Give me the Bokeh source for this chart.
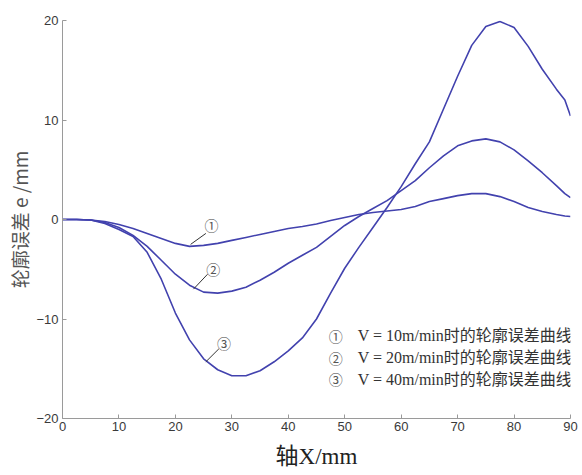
from bokeh.plotting import figure
from bokeh.models import Label, Range1d, FixedTicker
from bokeh.embed import file_html
from bokeh.resources import INLINE

# ---- data ----
x_mm = [0, 2.5, 5, 7.5, 10, 12.5, 15, 17.5, 20, 22.5, 25, 27.5, 30, 32.5, 35, 37.5,
        40, 42.5, 45, 47.5, 50, 52.5, 55, 57.5, 60, 62.5, 65, 67.5, 70, 72.5, 75,
        77.5, 80, 82.5, 85, 87.5, 89, 90]
e_v10 = [0, 0, -0.05, -0.2, -0.5, -0.9, -1.4, -1.9, -2.4, -2.7, -2.6, -2.4, -2.1, -1.8,
         -1.5, -1.2, -0.9, -0.7, -0.45, -0.1, 0.2, 0.5, 0.7, 0.85, 1.0, 1.3, 1.8, 2.1,
         2.4, 2.6, 2.6, 2.3, 1.8, 1.2, 0.8, 0.5, 0.35, 0.3]
e_v20 = [0, 0, -0.05, -0.3, -0.8, -1.6, -2.7, -4.1, -5.5, -6.6, -7.3, -7.4, -7.2, -6.8,
         -6.1, -5.3, -4.4, -3.6, -2.8, -1.7, -0.6, 0.3, 1.1, 1.9, 2.9, 3.9, 5.2, 6.4,
         7.4, 7.9, 8.1, 7.8, 7.0, 5.9, 4.7, 3.4, 2.6, 2.2]
e_v40 = [0, 0, -0.05, -0.4, -1.0, -1.7, -3.3, -6.0, -9.4, -12.1, -14.0, -15.1, -15.7,
         -15.7, -15.2, -14.3, -13.2, -11.9, -10.0, -7.4, -4.9, -2.8, -0.8, 1.2, 3.3,
         5.6, 7.8, 11.1, 14.4, 17.5, 19.4, 19.9, 19.3, 17.4, 15.1, 13.1, 12.0, 10.4]
x_ticks = [0, 10, 20, 30, 40, 50, 60, 70, 80, 90]
y_ticks = [-20, -10, 0, 10, 20]
legend_marks = ["①", "②", "③"]
legend_texts = ["V = 10m/min时的轮廓误差曲线",
                "V = 20m/min时的轮廓误差曲线",
                "V = 40m/min时的轮廓误差曲线"]

LINE = "#4242ae"
SERIF = "'Liberation Serif', 'Noto Sans CJK SC'"

p = figure(width=582, height=475, output_backend="svg", toolbar_location=None,
           x_range=Range1d(0, 90), y_range=Range1d(-20, 20),
           min_border_left=62, min_border_right=12, min_border_top=20,
           min_border_bottom=57)
p.outline_line_color = None
p.xgrid.visible = False
p.ygrid.visible = False
p.background_fill_color = "white"
p.border_fill_color = "white"

for ys in (e_v10, e_v20, e_v40):
    p.line(x_mm, ys, line_color=LINE, line_width=1.6)

for ax, ticks in ((p.xaxis[0], x_ticks), (p.yaxis[0], y_ticks)):
    ax.ticker = FixedTicker(ticks=ticks)
    ax.minor_tick_line_color = None
    ax.major_tick_in = 4
    ax.major_tick_out = 0
    ax.axis_line_color = "#9a9a9a"
    ax.major_tick_line_color = "#9a9a9a"
    ax.major_label_text_font = "Liberation Sans"
    ax.major_label_text_font_size = "13px"
    ax.major_label_text_color = "#3a3a3a"

p.xaxis.major_label_standoff = 3
p.yaxis.major_label_standoff = 4

p.xaxis.axis_label = "轴X/mm"
p.xaxis.axis_label_text_font = SERIF
p.xaxis.axis_label_text_font_size = "23px"
p.xaxis.axis_label_text_font_style = "normal"
p.xaxis.axis_label_text_color = "#222222"
p.xaxis.axis_label_standoff = 10

p.yaxis.axis_label = "轮廓误差 e /mm"
p.yaxis.axis_label_text_font = "Noto Sans CJK SC"
p.yaxis.axis_label_text_font_size = "19px"
p.yaxis.axis_label_text_font_style = "normal"
p.yaxis.axis_label_text_color = "#555555"
p.yaxis.axis_label_standoff = 0

# curve annotations (circled numbers with leader lines)
p.segment(x0=[22.7, 23.2, 25.4], y0=[-2.5, -7.0, -14.3],
          x1=[25.4, 25.7, 27.7], y1=[-1.4, -5.5, -13.0],
          line_color="#333333", line_width=1)
for (lx, ly), m in zip([(26.4, -0.6), (26.7, -5.0), (28.6, -12.4)], legend_marks):
    p.add_layout(Label(x=lx, y=ly, text=m, text_font="Noto Sans CJK SC",
                       text_font_size="14px", text_color="#555555",
                       text_align="center", text_baseline="middle"))

# legend texts
for i, (m, t) in enumerate(zip(legend_marks, legend_texts)):
    yy = -11.66 - 2.21 * i
    p.add_layout(Label(x=48.4, y=yy, text=m, text_font="Noto Sans CJK SC",
                       text_font_size="14px", text_color="#555555",
                       text_align="center", text_baseline="middle"))
    p.add_layout(Label(x=52.3, y=yy, text=t, text_font=SERIF,
                       text_font_size="16px", text_color="#333333",
                       text_align="left", text_baseline="middle"))

open("out.html", "w").write(file_html(p, INLINE))
